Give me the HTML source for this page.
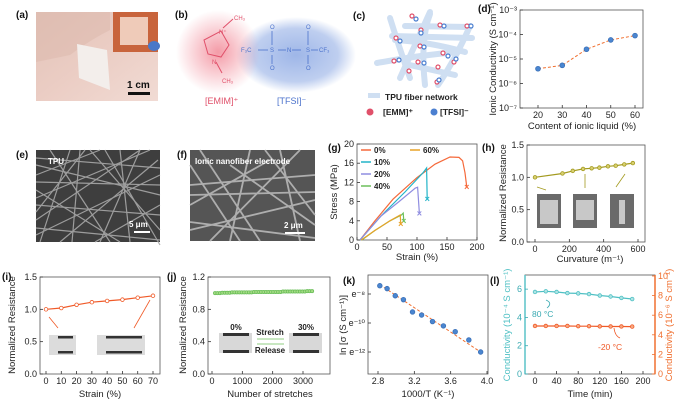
<!DOCTYPE html>
<html><head><meta charset="utf-8"><style>
body{margin:0;background:#fff;}
svg{display:block;font-family:"Liberation Sans",sans-serif;}
</style></head><body>
<svg id="fig" width="677" height="404" viewBox="0 0 677 404" xmlns="http://www.w3.org/2000/svg">
<defs>
<radialGradient id="rb" cx="0.5" cy="0.5" r="0.5"><stop offset="0" stop-color="#f07a8a" stop-opacity="0.75"/><stop offset="1" stop-color="#f07a8a" stop-opacity="0"/></radialGradient>
<radialGradient id="bb" cx="0.5" cy="0.5" r="0.5"><stop offset="0" stop-color="#7e9ee0" stop-opacity="0.75"/><stop offset="0.7" stop-color="#7e9ee0" stop-opacity="0.5"/><stop offset="1" stop-color="#7e9ee0" stop-opacity="0"/></radialGradient>
<linearGradient id="skin" x1="0" y1="0" x2="1" y2="1"><stop offset="0" stop-color="#e2c3b8"/><stop offset="0.5" stop-color="#ebcdc4"/><stop offset="1" stop-color="#f1dbd4"/></linearGradient>
</defs>
<g>
<text x="16" y="18" font-size="10" font-weight="bold" fill="#111">(a)</text>
<rect x="36" y="12" width="122" height="89" fill="url(#skin)"/>
<path d="M36 12 L110 12 L110 30 Q90 40 70 55 L36 62 Z" fill="#dcb8ac" opacity="0.5"/>
<polygon points="77,44 107,50 110,90 79,78" fill="#f3eeeb"/>
<rect x="113" y="12" width="45" height="40" fill="#c8643c"/>
<rect x="120" y="17" width="28" height="28" fill="#efcbb9"/>
<ellipse cx="154" cy="46" rx="6" ry="5" fill="#4a78c8"/>
<text x="127" y="88" font-size="10" font-weight="bold" fill="#111">1 cm</text>
<rect x="128" y="92" width="22" height="3" fill="#111"/>
</g>
<g>
<text x="175" y="18" font-size="10" font-weight="bold" fill="#111">(b)</text>
<ellipse cx="296" cy="55" rx="60" ry="38" fill="url(#bb)"/>
<ellipse cx="218" cy="52" rx="42" ry="42" fill="url(#rb)"/>
<g stroke="#e0506a" stroke-width="1" fill="none">
<polygon points="221,31 229,45 221,57 208,54 204,40"/>
<line x1="223" y1="28" x2="233" y2="19"/><line x1="216" y1="62" x2="222" y2="73"/>
</g>
<g font-size="6" fill="#e0506a"><text x="219" y="34">N⁺</text><text x="212" y="64">N</text><text x="234" y="20">CH₃</text><text x="222" y="83">CH₃</text></g>
<g stroke="#4b72cc" stroke-width="0.8"><line x1="258" y1="50" x2="268" y2="50"/><line x1="278" y1="50" x2="286" y2="50"/><line x1="292" y1="50" x2="301" y2="50"/><line x1="311" y1="50" x2="318" y2="50"/><line x1="272" y1="31" x2="272" y2="45"/><line x1="308" y1="31" x2="308" y2="45"/><line x1="272" y1="55" x2="272" y2="64"/><line x1="308" y1="55" x2="308" y2="64"/></g>
<g font-size="6" fill="#4b72cc"><text x="241" y="52">F₃C</text><text x="270" y="52">S</text><text x="287" y="52">N</text><text x="306" y="52">S</text><text x="319" y="52">CF₃</text><text x="270" y="29">O</text><text x="306" y="29">O</text><text x="270" y="70">O</text><text x="306" y="70">O</text></g>
<text x="205" y="104" font-size="9" fill="#e0506a">[EMIM]⁺</text>
<text x="277" y="104" font-size="9" fill="#4b72cc">[TFSI]⁻</text>
</g>
<g>
<text x="353" y="19" font-size="10" font-weight="bold" fill="#111">(c)</text>
<g stroke="#cfdff2" stroke-width="6" fill="none" stroke-linecap="round">
<path d="M377 63 Q420 55 458 52"/><path d="M395 40 Q430 42 465 52"/><path d="M392 36 L472 38"/><path d="M405 26 L470 27"/>
<path d="M390 18 Q400 50 410 78"/><path d="M430 14 Q420 40 425 85"/><path d="M430 12 L400 78"/><path d="M470 26 Q455 60 438 85"/><path d="M405 64 L455 75"/>
</g>
<g stroke-width="1.2" fill="#fff">
<circle cx="412" cy="16" r="2" stroke="#e0506a"/><circle cx="416" cy="19" r="2" stroke="#4b7fd0"/><circle cx="440" cy="25" r="2" stroke="#e0506a"/><circle cx="444" cy="26" r="2" stroke="#4b7fd0"/>
<circle cx="467" cy="26" r="2" stroke="#e0506a"/><circle cx="471" cy="26" r="2" stroke="#4b7fd0"/><circle cx="396" cy="38" r="2" stroke="#e0506a"/><circle cx="400" cy="41" r="2" stroke="#4b7fd0"/>
<circle cx="420" cy="46" r="2" stroke="#e0506a"/><circle cx="424" cy="47" r="2" stroke="#4b7fd0"/><circle cx="443" cy="53" r="2" stroke="#e0506a"/><circle cx="448" cy="56" r="2" stroke="#4b7fd0"/>
<circle cx="394" cy="61" r="2" stroke="#e0506a"/><circle cx="399" cy="60" r="2" stroke="#4b7fd0"/><circle cx="418" cy="62" r="2" stroke="#e0506a"/><circle cx="424" cy="63" r="2" stroke="#4b7fd0"/>
<circle cx="438" cy="67" r="2" stroke="#e0506a"/><circle cx="454" cy="62" r="2" stroke="#e0506a"/><circle cx="456" cy="59" r="2" stroke="#4b7fd0"/><circle cx="409" cy="71" r="2" stroke="#e0506a"/>
<circle cx="437" cy="82" r="2" stroke="#e0506a"/><circle cx="439" cy="80" r="2" stroke="#4b7fd0"/><circle cx="421" cy="30" r="2" stroke="#e0506a"/><circle cx="421" cy="33" r="2" stroke="#4b7fd0"/>
</g>
<rect x="368" y="93" width="12" height="5" fill="#cfdff2"/>
<text x="385" y="100" font-size="8.5" font-weight="bold" fill="#222">TPU fiber network</text>
<circle cx="370" cy="112" r="3.5" fill="#e0506a"/>
<text x="383" y="115" font-size="8.5" font-weight="bold" fill="#222">[EMM]⁺</text>
<circle cx="434" cy="112" r="3.5" fill="#4b7fd0"/>
<text x="440" y="115" font-size="8.5" font-weight="bold" fill="#222">[TFSI]⁻</text>
</g>
<g>
<text x="16" y="158" font-size="10" font-weight="bold" fill="#111">(e)</text>
<rect x="36" y="150" width="124" height="92" fill="#3e3e3e"/>
<g stroke="#a8a8a8" stroke-width="1.2" opacity="0.9">
<line x1="36" y1="165" x2="160" y2="195"/><line x1="50" y1="150" x2="110" y2="242"/><line x1="36" y1="220" x2="140" y2="150"/><line x1="90" y1="150" x2="160" y2="230"/><line x1="36" y1="190" x2="120" y2="242"/><line x1="60" y1="242" x2="158" y2="160"/><line x1="36" y1="235" x2="160" y2="175"/><line x1="120" y1="150" x2="130" y2="242"/><line x1="36" y1="175" x2="100" y2="150"/><line x1="70" y1="150" x2="40" y2="242"/><line x1="95" y1="242" x2="160" y2="205"/><line x1="36" y1="205" x2="160" y2="215"/>
<line x1="36" y1="158" x2="160" y2="168"/><line x1="36" y1="198" x2="150" y2="150"/><line x1="80" y1="150" x2="72" y2="242"/><line x1="36" y1="228" x2="160" y2="240"/><line x1="140" y1="150" x2="100" y2="242"/><line x1="36" y1="182" x2="160" y2="185"/><line x1="105" y1="150" x2="160" y2="245"/><line x1="36" y1="212" x2="85" y2="150"/>
</g>
<text x="48" y="164" font-size="8" font-weight="bold" fill="#fff">TPU</text>
<text x="129" y="227" font-size="8" font-weight="bold" fill="#fff">5 μm</text>
<rect x="134" y="231" width="16" height="2" fill="#fff"/>
</g>
<g>
<text x="177" y="158" font-size="10" font-weight="bold" fill="#111">(f)</text>
<rect x="190" y="150" width="125" height="91" fill="#555"/>
<g stroke="#b8b8b8" stroke-width="1.8" opacity="0.9">
<line x1="190" y1="185" x2="315" y2="175"/><line x1="200" y1="150" x2="260" y2="241"/><line x1="190" y1="230" x2="315" y2="200"/><line x1="250" y1="150" x2="230" y2="241"/><line x1="280" y1="150" x2="300" y2="241"/><line x1="190" y1="205" x2="270" y2="160"/><line x1="230" y1="165" x2="315" y2="225"/><line x1="190" y1="165" x2="240" y2="241"/>
<line x1="190" y1="195" x2="315" y2="192"/><line x1="265" y1="150" x2="315" y2="215"/><line x1="210" y1="241" x2="300" y2="150"/><line x1="190" y1="222" x2="315" y2="238"/>
</g>
<text x="195" y="164" font-size="8" font-weight="bold" fill="#fff">Ionic nanofiber electrode</text>
<text x="284" y="228" font-size="8" font-weight="bold" fill="#fff">2 μm</text>
<rect x="285" y="232" width="20" height="2" fill="#fff"/>
</g>
<g id="charts"></g>
</svg>
<script>
const dContent=[20,30,40,50,60];
const dCond=[4e-6,5.5e-6,2.5e-5,6e-5,9e-5];
const dTickExp=[-3,-4,-5,-6,-7];
const gLabels=['0%','10%','20%','40%','60%'];
const gStrain0=[5,30,60,100,130,155,170,176,180,183];
const gStress0=[0,4,8.5,13,15.8,17.3,17.2,16.5,14,11];
const gStrain10=[5,40,80,110,116,117];
const gStress10=[0,5,10,14,15,8.5];
const gStrain20=[5,40,70,97,101,104];
const gStress20=[0,5,8,10.8,11,5.5];
const gStrain40=[8,30,55,74,77,78];
const gStress40=[0,2,4,5.2,5.6,4];
const gStrain60=[7,30,55,72,73];
const gStress60=[0,2,4,5.2,3.3];
const hCurv=[0,160,220,280,330,375,425,470,520,570];
const hRes=[1.0,1.06,1.1,1.13,1.14,1.15,1.17,1.18,1.2,1.22];
const iStrain=[0,10,20,30,40,50,60,70];
const iRes=[1.0,1.02,1.07,1.11,1.13,1.15,1.18,1.21];
const jCycles=[100,180,260,340,420,500,580,660,740,820,900,980,1060,1140,1220,1300,1380,1460,1540,1620,1700,1780,1860,1940,2020,2100,2180,2260,2340,2420,2500,2580,2660,2740,2820,2900,2980,3060,3140,3220,3300];
const jRes=[1.0,1.0,1.0,1.005,1.005,1.005,1.005,1.01,1.01,1.01,1.01,1.01,1.01,1.01,1.01,1.01,1.015,1.015,1.015,1.015,1.015,1.015,1.015,1.015,1.015,1.015,1.015,1.015,1.02,1.02,1.02,1.02,1.02,1.02,1.02,1.02,1.02,1.02,1.025,1.025,1.025];
const kInvT=[2.82,2.9,2.99,3.08,3.18,3.28,3.4,3.52,3.65,3.8,3.93];
const kLnSigma=[-7.43,-7.63,-8.12,-8.39,-9.24,-9.45,-9.9,-10.2,-10.6,-11.17,-12.0];
const lTime=[0,20,40,60,80,100,120,140,160,180];
const l80=[5.8,5.85,5.8,5.72,5.7,5.65,5.55,5.48,5.38,5.3];
const lM20=[4.9,4.9,4.9,4.9,4.88,4.88,4.86,4.85,4.85,4.84];

const NS='http://www.w3.org/2000/svg';
const root=document.getElementById('charts');
function mk(tag,attrs,parent){const e=document.createElementNS(NS,tag);for(const k in attrs)e.setAttribute(k,attrs[k]);(parent||root).appendChild(e);return e;}
function lin(d0,d1,r0,r1){return v=>r0+(v-d0)/(d1-d0)*(r1-r0);}
function txt(x,y,s,opts,parent){const t=mk('text',Object.assign({x:x,y:y,'font-size':9,fill:'#222'},opts||{}),parent);t.textContent=s;return t;}
function box(x0,y0,x1,y1,name,col){const r=mk('rect',{x:x0,y:y0,width:x1-x0,height:y1-y0,fill:'none',stroke:col||'#555','stroke-width':0.8});


return r;}
function xTick(x,y,label){const l=mk('line',{x1:x,y1:y,x2:x,y2:y-3,stroke:'#333','stroke-width':0.8});


const t=txt(x,y+10,label,{'text-anchor':'middle'});

}
function yTick(x,y,label,col,right){const l=mk('line',{x1:x,y1:y,x2:right?x-3:x+3,y2:y,stroke:col||'#333','stroke-width':0.8});


const t=txt(right?x+3:x-3,y+3,label,{'text-anchor':right?'start':'end',fill:col||'#222'});

}
function ytitle(x,y,s,col){const t=txt(x,y,s,{'text-anchor':'middle',transform:'rotate(-90 '+x+' '+y+')','font-size':9.5,fill:col||'#222'});

}
function xtitle(x,y,s){const t=txt(x,y,s,{'text-anchor':'middle','font-size':9.5});

}
function plabel(x,y,s){const t=txt(x,y,s,{'font-size':10,'font-weight':'bold',fill:'#111'});

}
function path(xs,ys,sx,sy,col,w,dash,name){let d='';xs.forEach((v,i)=>{d+=(i?'L':'M')+sx(v).toFixed(1)+' '+sy(ys[i]).toFixed(1);});
const p=mk('path',{d:d,fill:'none',stroke:col,'stroke-width':w||1.2,'stroke-dasharray':dash||'none'});


return p;}
function dots(xs,ys,sx,sy,fill,stroke,r,name){xs.forEach((v,i)=>{const c=mk('circle',{cx:sx(v),cy:sy(ys[i]),r:r||2.2,fill:fill,stroke:stroke,'stroke-width':0.8});

});}

plabel(478,12,'(d)');
{const sx=lin(20,60,538,635), sy=lin(-3,-7,10,108);
box(520,10,643,108,'plot-frame-d');
dTickExp.forEach(e=>{yTick(520,sy(e),'10'+{'-3':'⁻³','-4':'⁻⁴','-5':'⁻⁵','-6':'⁻⁶','-7':'⁻⁷'}[e]);});
dContent.forEach(v=>xTick(sx(v),108,String(v)));
const ly=dCond.map(v=>Math.log10(v));
path(dContent,ly,sx,sy,'#f07030',1,'3,2','conductivity-line');
dots(dContent,ly,sx,sy,'#4b86d0','#3a70b8',2.4,'conductivity-point');
ytitle(496,59,'Ionic Conductivity (S cm⁻¹)');
xtitle(582,129,'Content of ionic liquid (%)');}

plabel(328,151,'(g)');
{const sx=lin(0,200,357,477), sy=lin(0,20,240,144);
box(357,144,477,240,'plot-frame-g');
[0,4,8,12,16,20].forEach(v=>yTick(357,sy(v),String(v)));
[0,50,100,150,200].forEach(v=>xTick(sx(v),240,String(v)));
const cols=['#f5693a','#22b4c8','#8f8de0','#6cbf5a','#e8a227'];
const S=[[gStrain0,gStress0],[gStrain10,gStress10],[gStrain20,gStress20],[gStrain40,gStress40],[gStrain60,gStress60]];
S.forEach((s,i)=>{path(s[0],s[1],sx,sy,cols[i],1.2,null,'stress-curve-'+gLabels[i].replace('%','pct'));
const ex=sx(s[0][s[0].length-1]), ey=sy(s[1][s[1].length-1]);
const m=txt(ex,ey+3,'×',{'text-anchor':'middle',fill:cols[i],'font-size':9,'font-weight':'bold'});

});
const lp=[[361,150],[361,162],[361,174],[361,186],[410,150]];
lp.forEach((p,i)=>{const l=mk('line',{x1:p[0],y1:p[1],x2:p[0]+10,y2:p[1],stroke:cols[i],'stroke-width':1.5});


const t=txt(p[0]+13,p[1]+3,gLabels[i],{'font-size':8,'font-weight':'bold'});

});
ytitle(337,192,'Stress (MPa)');
xtitle(417,260,'Strain (%)');}

plabel(482,151,'(h)');
{const sx=lin(0,600,535,638), sy=lin(0,1.5,242,145);
box(527,145,645,242,'plot-frame-h');
[0,0.5,1.0,1.5].forEach(v=>yTick(527,sy(v),v.toFixed(1)));
[0,200,400,600].forEach(v=>xTick(sx(v),242,String(v)));
path(hCurv,hRes,sx,sy,'#a39a1f',1.2,null,'resistance-curvature-line');
dots(hCurv,hRes,sx,sy,'#d8d070','#a39a1f',1.8,'resistance-curvature-point');
[537,573,610].forEach((x,i)=>{const r=mk('rect',{x:x,y:194,width:24,height:34,fill:'#6a6a6a'});


mk('rect',{x:x+(i==2?9:3),y:200,width:i==2?6:18,height:i==1?20:24,fill:'#c8c8c8'});});
[[537,187,546,190],[585,174,585,188],[625,174,616,187]].forEach(a=>{const l=mk('line',{x1:a[0],y1:a[1],x2:a[2],y2:a[3],stroke:'#a39a1f','stroke-width':0.8});

});
ytitle(506,193,'Normalized Resistance');
xtitle(590,262,'Curvature (m⁻¹)');}

plabel(2,280,'(i)');
{const sx=lin(0,70,46,153), sy=lin(0,1.5,374,277);
box(40,277,160,374,'plot-frame-i');
[0,0.5,1.0,1.5].forEach(v=>yTick(40,sy(v),v.toFixed(1)));
iStrain.forEach(v=>xTick(sx(v),374,String(v)));
path(iStrain,iRes,sx,sy,'#f05a28',1.2,null,'resistance-strain-line');
dots(iStrain,iRes,sx,sy,'#fff','#f05a28',1.8,'resistance-strain-point');
[[49,335,27,20],[97,335,48,20]].forEach(a=>{const r=mk('rect',{x:a[0],y:a[1],width:a[2],height:a[3],fill:'#dcdcdc'});


mk('rect',{x:a[0]+9,y:a[1]+1,width:a[2]-12,height:2.5,fill:'#333'});mk('rect',{x:a[0]+9,y:a[1]+16,width:a[2]-12,height:2.5,fill:'#333'});});
mk('line',{x1:49,y1:317,x2:58,y2:328,stroke:'#f05a28','stroke-width':0.8});mk('line',{x1:150,y1:300,x2:134,y2:328,stroke:'#f05a28','stroke-width':0.8});
ytitle(15,325,'Normalized Resistance');
xtitle(100,397,'Strain (%)');}

plabel(167,280,'(j)');
{const sx=lin(0,3000,212,303), sy=lin(0,1.2,374,277);
box(208,277,330,374,'plot-frame-j');
[0,0.4,0.8,1.2].forEach(v=>yTick(208,sy(v),v.toFixed(1)));
[0,1000,2000,3000].forEach(v=>xTick(sx(v),374,String(v)));
dots(jCycles,jRes,sx,sy,'#a6dc86','#6cbf5a',1.6,'cycle-point');
[[219,333],[289,333]].forEach(a=>{const r=mk('rect',{x:a[0],y:a[1],width:33,height:20,fill:'#d8d8d8'});


mk('rect',{x:a[0]+4,y:a[1],width:26,height:3,fill:'#333'});mk('rect',{x:a[0]+4,y:a[1]+17,width:26,height:3,fill:'#333'});});
txt(236,330,'0%',{'text-anchor':'middle','font-size':8,'font-weight':'bold'});
txt(306,330,'30%',{'text-anchor':'middle','font-size':8,'font-weight':'bold'});
txt(270,335,'Stretch',{'text-anchor':'middle','font-size':8,'font-weight':'bold'});
txt(270,353,'Release',{'text-anchor':'middle','font-size':8,'font-weight':'bold'});
mk('line',{x1:257,y1:339,x2:284,y2:339,stroke:'#6cbf5a','stroke-width':0.8});mk('line',{x1:257,y1:344,x2:284,y2:344,stroke:'#6cbf5a','stroke-width':0.8});
ytitle(186,325,'Normalized Resistance');
xtitle(270,397,'Number of stretches');}

plabel(343,284,'(k)');
{const sx=lin(2.8,4.0,378,487), sy=lin(-8,-10,294,323);
box(368,275,488,374,'plot-frame-k');
[-8,-10,-12].forEach(v=>yTick(368,sy(v),'e'+(v==-8?'⁻⁸':v==-10?'⁻¹⁰':'⁻¹²')));
[2.8,3.2,3.6,4.0].forEach(v=>xTick(sx(v),374,v.toFixed(1)));
path([2.82,3.94],[-7.35,-12.05],sx,sy,'#f07030',1,'3,2','arrhenius-fit');
dots(kInvT,kLnSigma,sx,sy,'#4b86d0','#3a70b8',2.3,'arrhenius-point');
ytitle(346,325,'ln [σ (S cm⁻¹)]');
xtitle(428,397,'1000/T (K⁻¹)');}

plabel(490,284,'(l)');
{const sx=lin(0,200,535,643), syL=lin(0,7,374,275), syR=lin(0,10,374,276);
box(525,275,655,374,'plot-frame-l');
const la=mk('line',{x1:525,y1:275,x2:525,y2:374,stroke:'#5bc3c8','stroke-width':1.5});


const ra=mk('line',{x1:655,y1:275,x2:655,y2:374,stroke:'#f07030','stroke-width':1.5});


[0,2,4,6].forEach(v=>yTick(525,syL(v),String(v),'#3aaab2'));
[0,2,4,6,8,10].forEach(v=>yTick(655,syR(v),String(v),'#f07030',true));
[0,40,80,120,160,200].forEach(v=>xTick(sx(v),374,String(v)));
path(lTime,l80,sx,syL,'#4fc0c4',1.2,null,'line-80c');
dots(lTime,l80,sx,syL,'#aee4e4','#4fc0c4',1.8,'point-80c');
path(lTime,lM20,sx,syR,'#f05a28',1.2,null,'line-minus20c');
dots(lTime,lM20,sx,syR,'#f8a880','#f05a28',1.8,'point-minus20c');
txt(532,317,'80 °C',{'font-size':8.5,fill:'#3aaab2'});
txt(598,350,'-20 °C',{'font-size':8.5,fill:'#f05a28'});
mk('path',{d:'M547 308 Q553 303 546 300',fill:'none',stroke:'#3aaab2','stroke-width':0.8});
mk('path',{d:'M614 328 Q615 336 620 338',fill:'none',stroke:'#f05a28','stroke-width':0.8});
ytitle(510,325,'Conductivity (10⁻⁴ S cm⁻¹)','#4fc0c4');
ytitle(672,325,'Conductivity (10⁻⁶ S cm⁻¹)','#f07030');
xtitle(590,397,'Time (min)');}
</script>
</body></html>
